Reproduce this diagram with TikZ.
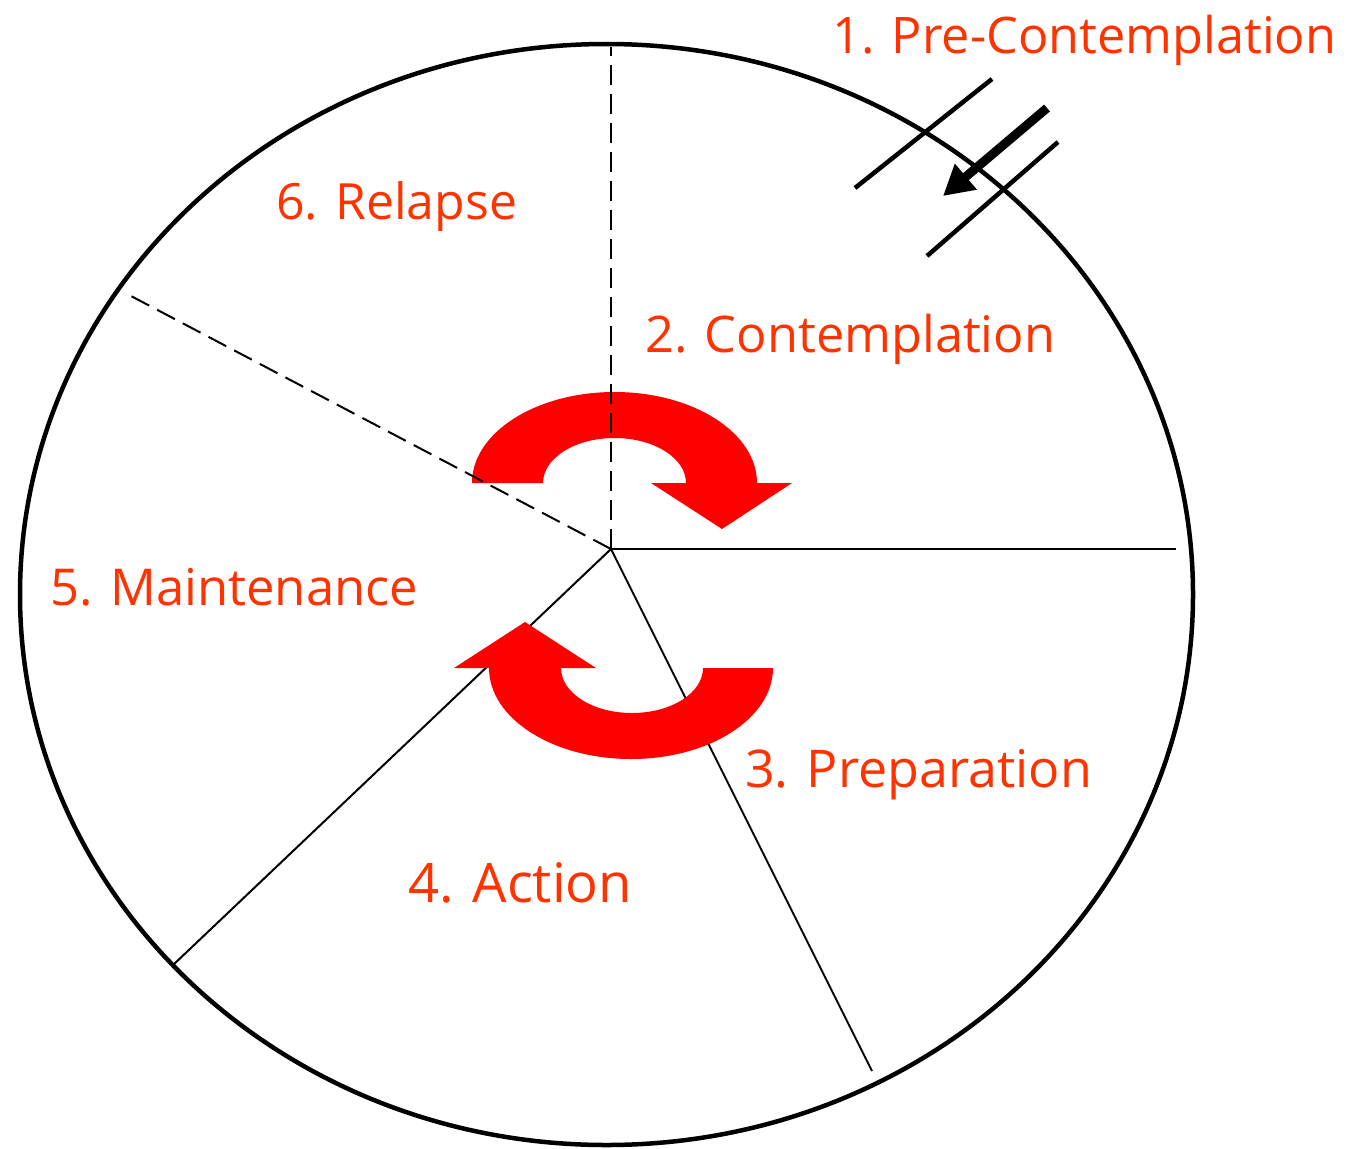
\documentclass[tikz,border=0pt]{standalone}
\usepackage{fontspec}
\setmainfont{Open Sans}
\usetikzlibrary{arrows.meta,shapes.geometric}
\definecolor{labred}{RGB}{255,51,0}
\definecolor{arrred}{RGB}{255,0,0}
\begin{document}
\begin{tikzpicture}[x=1pt,y=-1pt,
  lbl/.style={text=labred, anchor=base west, inner sep=0pt, font=\fontsize{50}{60}\selectfont},
  spoke/.style={line width=2pt},
  dspoke/.style={line width=2pt, dash pattern=on 20pt off 9pt},
  gate/.style={line width=4.5pt},
  bigarrow/.style={fill=arrred}]
\useasboundingbox (0,0) rectangle (1359,1148);
\fill[white] (0,0) rectangle (1359,1148);

% wheel
\node[ellipse, draw, line width=4.5pt, minimum width=1173pt, minimum height=1101pt, inner sep=0pt] (wheel) at (606.5,594.5) {};

% spoke ends
\coordinate (hub) at (611,549);
\coordinate (eTop) at (611,47);
\coordinate (eNW) at (131,296);
\coordinate (eE) at (1176,549);
\coordinate (eSE) at (872,1071);
\coordinate (eSW) at (172,966);

% upper red arrow (under dashed lines)
\fill[bigarrow] (472,483) arc[start angle=180,end angle=360,x radius=142.5,y radius=91]
  -- (792,483) -- (722,529) -- (651,483) -- (686,483)
  arc[start angle=0,end angle=-180,x radius=71.5,y radius=45] -- cycle;

\draw[dspoke] (hub) -- (eTop);
\draw[dspoke] (hub) -- (eNW);
\draw[spoke] (hub) -- (eE);
\draw[spoke] (hub) -- (eSE);
\draw[spoke] (hub) -- (eSW);

% lower red arrow (over solid lines)
\fill[bigarrow] (773,668) arc[start angle=0,end angle=180,x radius=142,y radius=91]
  -- (454,668) -- (525,622) -- (596,668) -- (561,668)
  arc[start angle=180,end angle=0,x radius=71,y radius=45] -- cycle;

% entry gate
\coordinate (g1a) at (855,188);
\coordinate (g1b) at (992,79);
\coordinate (g2a) at (927,256);
\coordinate (g2b) at (1058,142);
\coordinate (arS) at (1047,108);
\coordinate (arT) at (943,196);
\draw[gate] (g1a) -- (g1b);
\draw[gate] (g2a) -- (g2b);
\draw[line width=9pt, -{Triangle[length=30pt,width=32pt]}] (arS) -- (arT);

% labels
\node[lbl] (l1) at (832,53) {\resizebox{504pt}{!}{1. Pre-Contemplation}};
\node[lbl] (l2) at (645,352) {\resizebox{410pt}{!}{2. Contemplation}};
\node[lbl] (l3) at (745,787) {\resizebox{347pt}{!}{3. Preparation}};
\node[lbl] (l4) at (408,902) {\resizebox{224pt}{!}{4. Action}};
\node[lbl] (l5) at (50,605) {\resizebox{368pt}{!}{5. Maintenance}};
\node[lbl] (l6) at (276,219) {\resizebox{241pt}{!}{6. Relapse}};
\end{tikzpicture}
\end{document}
